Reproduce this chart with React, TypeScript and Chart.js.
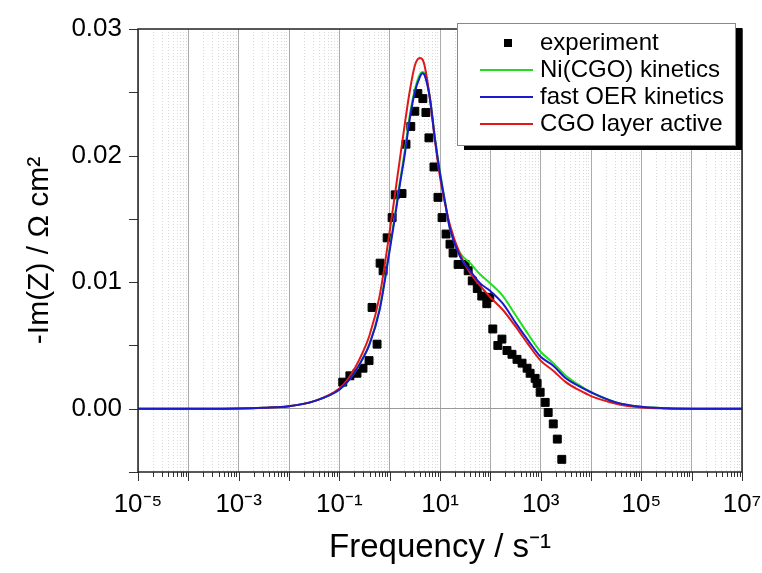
import React, { useEffect, useRef } from "react";
import { Chart, registerables } from "chart.js";

Chart.register(...registerables);

// ---------- data ----------
const expFreq = [
  0.117, 0.162, 0.224, 0.295, 0.389, 0.447, 0.562, 0.646, 0.741, 0.891,
  1.12, 1.29, 1.76, 2.11, 2.63, 3.16, 3.63, 4.57, 5.25, 6.03,
  7.59, 9.12, 11.0, 13.2, 15.8, 18.2, 22.9, 31.6, 36.3, 43.7,
  55.0, 67.6, 85.1, 97.7, 112, 141, 170, 214, 269, 339,
  427, 537, 617, 776, 851, 977, 1230, 1410, 1780, 2140, 2630,
];
const expImZ = [
  0.0021, 0.0026, 0.0028, 0.0032, 0.0038, 0.008, 0.0051, 0.0115, 0.0109, 0.0135,
  0.0151, 0.0169, 0.017, 0.0209, 0.0223, 0.0235, 0.0249, 0.0245, 0.0234, 0.0214,
  0.0191, 0.0167, 0.0151, 0.0138, 0.013, 0.0123, 0.0114, 0.0114, 0.0109, 0.0101,
  0.0095, 0.0089, 0.0083, 0.0088, 0.0063, 0.005, 0.0055, 0.0046, 0.0043, 0.0039,
  0.0036, 0.0032, 0.0028, 0.0024, 0.002, 0.0013, 0.0005, -0.0003, -0.0012, -0.0024, -0.004,
];

const modelFreq = [
  1e-5, 1e-4, 1e-3, 0.00316, 0.01, 0.0316, 0.1, 0.158, 0.251, 0.398,
  0.631, 1, 1.26, 1.58, 2.0, 2.51, 3.16, 3.98, 4.47, 5.01,
  6.31, 7.94, 10, 12.6, 15.8, 25.1, 39.8, 63.1, 100, 178,
  316, 562, 1000, 1780, 3160, 5620, 1e4, 3.16e4, 1e5, 3.16e5,
  1e6, 1e7,
];
const niCgoKinetics = [
  0, 0, 0.00002, 0.00008, 0.0002, 0.0006, 0.0015, 0.0023, 0.0035, 0.0051,
  0.0079, 0.0127, 0.0152, 0.0178, 0.0204, 0.0232, 0.0252, 0.0264, 0.0266, 0.0264,
  0.0246, 0.0214, 0.0187, 0.0164, 0.0142, 0.0123, 0.0115, 0.0106, 0.0099, 0.0089,
  0.0074, 0.0059, 0.0045, 0.0036, 0.0026, 0.0019, 0.0013, 0.0005, 0.00015, 0.00003,
  0, 0,
];
const fastOerKinetics = [
  0, 0, 0.00002, 0.00008, 0.0002, 0.0006, 0.0015, 0.0023, 0.0035, 0.0051,
  0.0078, 0.0125, 0.015, 0.0176, 0.0201, 0.0229, 0.025, 0.0262, 0.0265, 0.0263,
  0.0245, 0.0213, 0.0186, 0.0163, 0.0142, 0.012, 0.0109, 0.0099, 0.0093, 0.0083,
  0.0068, 0.0054, 0.0041, 0.0034, 0.0024, 0.0018, 0.0013, 0.0005, 0.00015, 0.00003,
  0, 0,
];
const cgoLayerActive = [
  0, 0, 0.00002, 0.00008, 0.0002, 0.0006, 0.0016, 0.0025, 0.0039, 0.0058,
  0.0089, 0.014, 0.0168, 0.0196, 0.0225, 0.0251, 0.0271, 0.0277, 0.0276, 0.027,
  0.0245, 0.0212, 0.0183, 0.0162, 0.0145, 0.0122, 0.0107, 0.0097, 0.0088, 0.0078,
  0.0065, 0.0051, 0.0038, 0.003, 0.0021, 0.0015, 0.001, 0.0004, 0.0001, 0.00002,
  0, 0,
];

const xLabelExponents = [-5, -3, -1, 1, 3, 5, 7];
const yLabelValues = [0, 0.01, 0.02, 0.03];

const seriesLabels = ["experiment", "Ni(CGO) kinetics", "fast OER kinetics", "CGO layer active"];
const seriesColors = ["#000000", "#22dd22", "#1a1acc", "#e01818"];

// ---------- helpers ----------
const FONT = "'Liberation Sans', Arial, Helvetica, sans-serif";
const SUP: Record<string, string> = {
  "-": "\u207B", "0": "\u2070", "1": "\u00B9", "2": "\u00B2", "3": "\u00B3",
  "4": "\u2074", "5": "\u2075", "6": "\u2076", "7": "\u2077", "8": "\u2078", "9": "\u2079",
};
const sup = (n: number) => String(n).split("").map((c) => SUP[c] || c).join("");

const pts = (xs: number[], ys: number[]) => xs.map((x, i) => ({ x, y: ys[i] }));

const decadeOf = (v: number) => {
  const e = Math.round(Math.log10(v));
  return Math.abs(v / Math.pow(10, e) - 1) < 1e-6 ? e : null;
};

const framePlugin = {
  id: "frameAndLegend",
  afterDraw(chart: any) {
    const { ctx, chartArea: a, scales } = chart;
    const xs = scales.x;
    const ys = scales.y;
    ctx.save();
    // axis ticks
    ctx.strokeStyle = "#333";
    ctx.lineWidth = 1;
    ctx.beginPath();
    for (let e = -5; e <= 7; e++) {
      const px = Math.round(xs.getPixelForValue(Math.pow(10, e))) + 0.5;
      ctx.moveTo(px, a.bottom);
      ctx.lineTo(px, a.bottom + 9);
      if (e < 7) {
        for (let m = 2; m <= 9; m++) {
          const p = Math.round(xs.getPixelForValue(m * Math.pow(10, e))) + 0.5;
          ctx.moveTo(p, a.bottom);
          ctx.lineTo(p, a.bottom + 5);
        }
      }
    }
    for (let k = -1; k <= 6; k++) {
      const py = Math.round(ys.getPixelForValue(k * 0.005)) + 0.5;
      ctx.moveTo(a.left - 9, py);
      ctx.lineTo(a.left, py);
    }
    ctx.stroke();
    // frame
    ctx.lineWidth = 1.5;
    ctx.strokeStyle = "#222";
    ctx.strokeRect(a.left, a.top, a.right - a.left, a.bottom - a.top);

    // legend
    const bx = 457, by = 23, bw = 278, bh = 122;
    ctx.fillStyle = "#000";
    ctx.fillRect(bx + 7, by + 5, bw, bh);
    ctx.fillStyle = "#fff";
    ctx.fillRect(bx, by, bw, bh);
    ctx.strokeStyle = "#888";
    ctx.lineWidth = 1;
    ctx.strokeRect(bx + 0.5, by + 0.5, bw, bh);
    ctx.font = `24px ${FONT}`;
    ctx.textBaseline = "middle";
    ctx.textAlign = "left";
    const rows = [43, 70, 97, 124];
    seriesLabels.forEach((lab, i) => {
      const y = rows[i];
      if (i === 0) {
        ctx.fillStyle = "#000";
        ctx.fillRect(504, y - 4, 8, 8);
      } else {
        ctx.strokeStyle = seriesColors[i];
        ctx.lineWidth = 2;
        ctx.beginPath();
        ctx.moveTo(480, y);
        ctx.lineTo(533, y);
        ctx.stroke();
      }
      ctx.fillStyle = "#000";
      ctx.fillText(lab, 540, y);
    });
    ctx.restore();
  },
};

export default function App() {
  const ref = useRef<HTMLCanvasElement>(null);
  useEffect(() => {
    if (!ref.current) return;
    const lineDs = (i: number, ys: number[], order: number) => ({
      label: seriesLabels[i],
      data: pts(modelFreq, ys),
      borderColor: seriesColors[i],
      backgroundColor: seriesColors[i],
      borderWidth: 2,
      pointRadius: 0,
      showLine: true,
      fill: false,
      cubicInterpolationMode: "monotone" as const,
      order,
    });
    const chart = new Chart(ref.current, {
      type: "line",
      data: {
        datasets: [
          {
            label: seriesLabels[0],
            data: pts(expFreq, expImZ),
            showLine: false,
            pointStyle: "rect",
            pointRadius: 5.6,
            borderWidth: 1,
            borderColor: "#000",
            backgroundColor: "#000",
            order: 4,
          },
          lineDs(1, niCgoKinetics, 3),
          lineDs(3, cgoLayerActive, 2),
          lineDs(2, fastOerKinetics, 1),
        ] as any,
      },
      options: {
        animation: false,
        responsive: true,
        maintainAspectRatio: false,
        events: [],
        layout: { autoPadding: false, padding: { left: 0, right: 20, top: 29, bottom: 0 } },
        plugins: { legend: { display: false }, tooltip: { enabled: false } },
        scales: {
          x: {
            type: "logarithmic",
            min: 1e-5,
            max: 1e7,
            afterBuildTicks: (scale: any) => {
              const t: any[] = [];
              for (let e = -5; e < 7; e++) {
                for (let m = 1; m <= 9; m++) t.push({ value: m * Math.pow(10, e), major: m === 1 });
              }
              t.push({ value: 1e7, major: true });
              scale.ticks = t;
            },
            afterFit: (scale: any) => {
              scale.height = 101;
              scale.paddingLeft = 0;
              scale.paddingRight = 0;
            },
            ticks: {
              autoSkip: false,
              maxRotation: 0,
              minRotation: 0,
              padding: 17,
              color: "#000",
              font: { size: 26, family: FONT },
              callback: (v: any) => {
                const e = decadeOf(Number(v));
                if (e === null || !xLabelExponents.includes(e)) return "";
                return "10" + sup(e);
              },
            },
            grid: {
              drawTicks: false,
              lineWidth: 1,
              color: (ctx: any) => (ctx.tick && ctx.tick.major ? "#ababab" : "#d9d9d9"),
            },
            border: {
              display: false,
              dash: (ctx: any) => (ctx.tick && !ctx.tick.major ? [1, 2] : []),
            },
            title: {
              display: true,
              text: "Frequency / s\u207B\u00B9",
              color: "#000",
              font: { size: 33, family: FONT },
              padding: { top: 0, bottom: 5 },
            },
          },
          y: {
            type: "linear",
            min: -0.005,
            max: 0.03,
            afterBuildTicks: (scale: any) => {
              const t: any[] = [];
              for (let k = -1; k <= 6; k++) t.push({ value: k * 0.005 });
              scale.ticks = t;
            },
            afterFit: (scale: any) => {
              scale.width = 138;
              scale.paddingTop = 0;
              scale.paddingBottom = 0;
            },
            ticks: {
              padding: 16,
              color: "#000",
              font: { size: 26, family: FONT },
              callback: (v: any) => {
                const n = Number(v);
                const hit = yLabelValues.find((q) => Math.abs(q - n) < 1e-9);
                return hit === undefined ? "" : hit.toFixed(2);
              },
            },
            grid: {
              drawTicks: false,
              lineWidth: 1,
              color: (ctx: any) =>
                ctx.tick && Math.abs(ctx.tick.value) < 1e-9 ? "#9a9a9a" : "rgba(0,0,0,0)",
            },
            border: { display: false },
            title: {
              display: true,
              text: "-Im(Z) / \u03A9 cm\u00B2",
              color: "#000",
              font: { size: 30, family: FONT },
              padding: { top: 22, bottom: 0 },
            },
          },
        },
      },
      plugins: [framePlugin],
    });
    return () => chart.destroy();
  }, []);

  return (
    <div
      style={{
        position: "absolute",
        left: 0,
        top: 0,
        width: 762,
        height: 573,
        background: "#fff",
      }}
    >
      <canvas ref={ref} />
    </div>
  );
}
